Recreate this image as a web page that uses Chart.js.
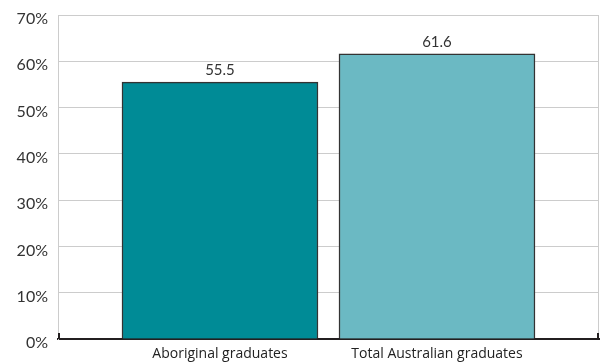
<!DOCTYPE html>
<html>
<head>
<meta charset="utf-8">
<script src="https://cdn.jsdelivr.net/npm/chart.js@4/dist/chart.umd.min.js"></script>
<style>
html,body{margin:0;padding:0;background:#fff;}
#wrap{width:600px;height:364px;position:relative;}
</style>
</head>
<body>
<div id="wrap"><canvas id="c" width="600" height="364"></canvas></div>
<script>
const categories = ['Aboriginal graduates', 'Total Australian graduates'];
const positions = [1, 2];
const values = [55.5, 61.6];
const barColors = ['#008b96', '#6bb9c3'];
const yTicks = [0, 10, 20, 30, 40, 50, 60, 70];

const points = positions.map((p, i) => ({ x: p, y: values[i] }));

const decor = {
  id: 'decor',
  afterDraw(chart) {
    const { ctx, chartArea: a } = chart;
    ctx.save();
    ctx.strokeStyle = '#cccccc';
    ctx.lineWidth = 1;
    ctx.beginPath();
    ctx.moveTo(a.right - 0.5, a.top);
    ctx.lineTo(a.right - 0.5, a.bottom);
    ctx.stroke();
    ctx.strokeStyle = '#231f20';
    ctx.lineWidth = 2;
    ctx.beginPath();
    ctx.moveTo(a.left + 1, a.bottom - 6);
    ctx.lineTo(a.left + 1, a.bottom);
    ctx.moveTo(a.right - 1, a.bottom - 6);
    ctx.lineTo(a.right - 1, a.bottom);
    ctx.stroke();
    const meta = chart.getDatasetMeta(0);
    ctx.fillStyle = '#333333';
    ctx.font = '15px Lato';
    ctx.textAlign = 'center';
    ctx.textBaseline = 'alphabetic';
    meta.data.forEach((el, i) => {
      ctx.fillText(values[i].toFixed(1), el.x, el.y - 7);
    });
    ctx.restore();
  }
};

new Chart(document.getElementById('c'), {
  type: 'bar',
  data: {
    datasets: [{
      data: points,
      backgroundColor: barColors,
      borderColor: '#333333',
      borderWidth: 1.5,
      borderSkipped: 'bottom',
      barThickness: 196
    }]
  },
  options: {
    responsive: false,
    animation: false,
    devicePixelRatio: 1,
    layout: { padding: { top: 15, right: 1, left: 0, bottom: 0 } },
    plugins: { legend: { display: false }, tooltip: { enabled: false } },
    scales: {
      x: {
        type: 'linear',
        offset: false,
        bounds: 'ticks',
        min: 0.2535,
        max: 2.7466,
        afterBuildTicks(scale) { scale.ticks = positions.map(v => ({ value: v })); },
        afterFit(scale) { scale.height = 25; scale.paddingLeft = 0; scale.paddingRight = 0; },
        ticks: {
          autoSkip: false,
          maxRotation: 0,
          padding: 7,
          color: '#222222',
          font: { family: 'Open Sans', size: 14 },
          callback(v) { const i = positions.indexOf(v); return i >= 0 ? categories[i] : ''; }
        },
        grid: { display: false, drawTicks: false, offset: false },
        border: { display: true, color: '#231f20', width: 2 }
      },
      y: {
        min: 0,
        max: 70,
        afterBuildTicks(scale) { scale.ticks = yTicks.map(v => ({ value: v })); },
        afterFit(scale) { scale.width = 58; scale.paddingTop = 0; scale.paddingBottom = 0; },
        ticks: {
          padding: 10,
          labelOffset: 4,
          color: '#333333',
          font: { family: 'Lato', size: 16 },
          callback(v) { return v + '%'; }
        },
        grid: { color: '#cccccc', lineWidth: 1, drawTicks: false },
        border: { display: true, color: '#cccccc', width: 1 }
      }
    }
  },
  plugins: [decor]
});
</script>
</body>
</html>
